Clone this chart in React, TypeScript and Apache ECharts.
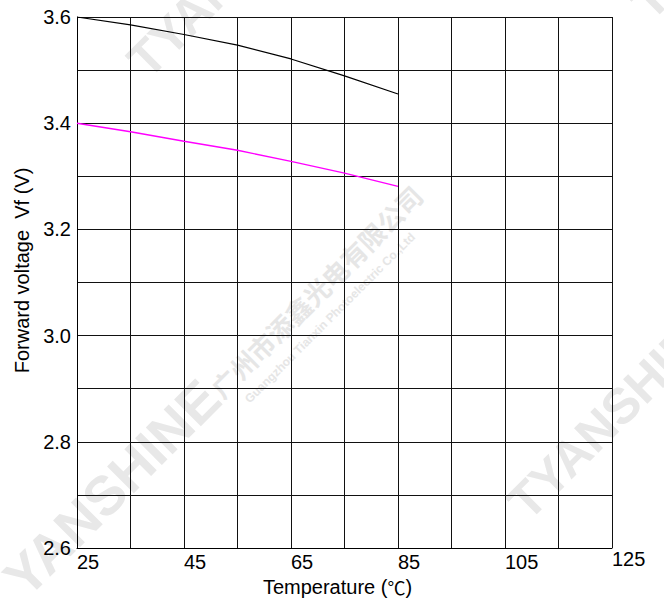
import React, { useEffect, useRef } from "react";
import * as echarts from "echarts";

// Temperature (°C) sample points
const temps = [25, 35, 45, 55, 65, 75, 85];
// Forward voltage, upper (black) curve
const vfBlack = [3.6, 3.585, 3.567, 3.547, 3.521, 3.489, 3.455];
// Forward voltage, lower (magenta) curve
const vfMagenta = [3.4, 3.384, 3.366, 3.349, 3.328, 3.306, 3.281];
// Tick labels
const xTickLabels = [25, 45, 65, 85, 105, 125];
const yTickLabels = [2.6, 2.8, 3.0, 3.2, 3.4, 3.6];

const X_START = 25; // axis starts at 25 °C; shifted so gridlines fall every 10 from it

const FONT = "'Liberation Sans', Arial, sans-serif";
const CJK = "'Noto Sans CJK SC', sans-serif";
const WM = "#e8e8e8";

export default function App() {
  const ref = useRef<HTMLDivElement>(null);

  useEffect(() => {
    document.body.style.margin = "0";
    if (!ref.current) return;
    const chart = echarts.init(ref.current, undefined, { renderer: "svg" });

    const toPts = (vals: number[]) => temps.map((t, i) => [t - X_START, vals[i]]);

    const deg45 = Math.PI / 4;
    const wm = (text: string, x: number, y: number, size: number, weight = "bold", color = WM, family = FONT) => ({
      type: "text",
      x,
      y,
      rotation: deg45,
      z: -10,
      silent: true,
      style: {
        text,
        fill: color,
        font: `${weight} ${size}px ${family}`,
        textAlign: "center",
        textVerticalAlign: "middle",
      },
    });

    chart.setOption({
      animation: false,
      backgroundColor: "#ffffff",
      textStyle: { fontFamily: FONT },
      graphic: {
        elements: [
          wm("YANSHINE", 112, 488, 55),
          wm("TYANSHINE", 617, 410, 50),
          wm("TYANSHINE", 237, -32, 50),
          wm("TYANSHINE", 740, -90, 50),
          wm("广州市添鑫光电有限公司", 316, 291, 26, "bold", "#e6e6e6", CJK),
          wm("Guangzhou Tianxin Photoelectric Co.,Ltd", 330, 318, 12, "bold", "#e6e6e6"),
        ],
      },
      grid: { left: 77, right: 52, top: 17, bottom: 56, containLabel: false },
      xAxis: {
        type: "value",
        min: 0,
        max: 100,
        interval: 10,
        name: "Temperature ({c|℃})",
        nameLocation: "middle",
        nameGap: 28,
        nameTextStyle: {
          fontSize: 20,
          color: "#000",
          fontFamily: FONT,
          padding: [0, 14, 0, 0],
          rich: { c: { fontSize: 18, color: "#000", fontFamily: CJK } },
        },
        axisLine: { show: true, lineStyle: { color: "#000", width: 1 } },
        axisTick: { show: false },
        splitLine: { show: true, lineStyle: { color: "#111", width: 1 } },
        axisLabel: {
          show: true,
          showMinLabel: true,
          showMaxLabel: true,
          align: "left",
          margin: 4,
          fontSize: 20,
          color: "#000",
          fontFamily: FONT,
          formatter: (v: number) => {
            const t = Math.round(v + X_START);
            if (!xTickLabels.includes(t)) return "";
            if (t === xTickLabels[xTickLabels.length - 1]) return `{hi|${t}}`;
            return String(t);
          },
          rich: {
            hi: { fontSize: 20, color: "#000", fontFamily: FONT, lineHeight: 13 },
          },
        },
      },
      yAxis: {
        type: "value",
        min: 2.6,
        max: 3.6,
        interval: 0.1,
        name: "Forward voltage  Vf (V)",
        nameLocation: "middle",
        nameGap: 43,
        nameRotate: 90,
        nameTextStyle: { fontSize: 20, color: "#000", fontFamily: FONT, padding: [0, 0, 0, 24] },
        axisLine: { show: true, lineStyle: { color: "#000", width: 1 } },
        axisTick: { show: false },
        splitLine: { show: true, lineStyle: { color: "#111", width: 1 } },
        axisLabel: {
          show: true,
          margin: 6,
          fontSize: 20,
          color: "#000",
          fontFamily: FONT,
          formatter: (v: number) => {
            const r = Math.round(v * 10) / 10;
            return yTickLabels.some((y) => Math.abs(y - r) < 1e-6) ? r.toFixed(1) : "";
          },
        },
      },
      series: [
        {
          type: "line",
          data: toPts(vfBlack),
          smooth: false,
          showSymbol: false,
          lineStyle: { color: "#000", width: 1.2 },
          z: 5,
        },
        {
          type: "line",
          data: toPts(vfMagenta),
          smooth: false,
          showSymbol: false,
          lineStyle: { color: "#ff00ff", width: 1.4 },
          z: 5,
        },
      ],
    });

    return () => chart.dispose();
  }, []);

  return <div ref={ref} style={{ width: 664, height: 604 }} />;
}
